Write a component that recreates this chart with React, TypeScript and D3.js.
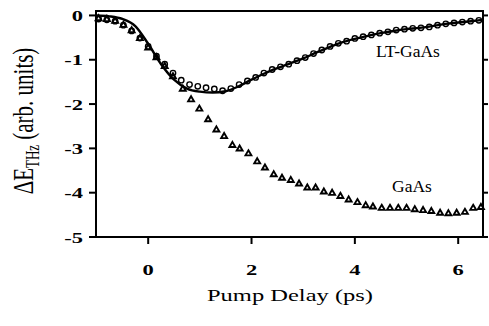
import React from "react";
import * as d3 from "d3";

// LT-GaAs measured points (open circles)
const ltTime = [-0.96, -0.8, -0.64, -0.48, -0.32, -0.16, 0.0, 0.16, 0.32, 0.48, 0.64, 0.8, 0.96, 1.12, 1.28, 1.44, 1.6, 1.76, 1.92, 2.08, 2.24, 2.4, 2.56, 2.72, 2.88, 3.04, 3.2, 3.36, 3.52, 3.68, 3.84, 4.0, 4.16, 4.32, 4.48, 4.64, 4.8, 4.96, 5.12, 5.28, 5.44, 5.6, 5.76, 5.92, 6.08, 6.24, 6.4];
const ltValue = [-0.08, -0.1, -0.13, -0.22, -0.35, -0.51, -0.7, -0.92, -1.1, -1.3, -1.46, -1.56, -1.6, -1.63, -1.66, -1.7, -1.65, -1.56, -1.48, -1.4, -1.3, -1.22, -1.16, -1.1, -1.02, -0.95, -0.86, -0.78, -0.7, -0.63, -0.58, -0.52, -0.48, -0.44, -0.4, -0.37, -0.33, -0.31, -0.29, -0.28, -0.26, -0.22, -0.19, -0.17, -0.15, -0.13, -0.11];

// Fit curve (solid line)
const fitTime = [-1.0, -0.75, -0.5, -0.25, 0.0, 0.25, 0.5, 0.75, 1.0, 1.25, 1.5, 1.75, 2.0, 2.25, 2.5, 2.75, 3.0, 3.25, 3.5, 3.75, 4.0, 4.25, 4.5, 4.75, 5.0, 5.25, 5.5, 5.75, 6.0, 6.25, 6.48];
const fitValue = [0.0, -0.02, -0.08, -0.24, -0.64, -1.1, -1.45, -1.65, -1.72, -1.74, -1.71, -1.6, -1.45, -1.31, -1.19, -1.08, -0.97, -0.84, -0.72, -0.61, -0.53, -0.46, -0.4, -0.35, -0.31, -0.28, -0.24, -0.19, -0.16, -0.13, -0.1];

// GaAs measured points (triangles)
const gaasTime = [-0.96, -0.8, -0.64, -0.48, -0.32, -0.16, 0.0, 0.16, 0.32, 0.48, 0.67, 0.83, 0.99, 1.16, 1.32, 1.47, 1.63, 1.77, 1.94, 2.11, 2.26, 2.43, 2.59, 2.76, 2.92, 3.08, 3.24, 3.4, 3.56, 3.72, 3.88, 4.05, 4.21, 4.35, 4.52, 4.68, 4.84, 5.0, 5.16, 5.32, 5.48, 5.65, 5.81, 5.97, 6.13, 6.29, 6.44];
const gaasValue = [-0.07, -0.09, -0.13, -0.22, -0.34, -0.52, -0.73, -0.95, -1.15, -1.38, -1.66, -1.9, -2.11, -2.35, -2.58, -2.73, -2.93, -3.01, -3.12, -3.3, -3.44, -3.59, -3.67, -3.72, -3.8, -3.89, -3.89, -3.98, -4.01, -4.08, -4.16, -4.22, -4.29, -4.32, -4.35, -4.35, -4.35, -4.35, -4.38, -4.4, -4.42, -4.46, -4.47, -4.46, -4.44, -4.35, -4.33];

const xTicks = [0, 2, 4, 6];
const yTicks = [0, -1, -2, -3, -4, -5];

const FONT = "Liberation Serif";

export default function App() {
  const W = 489;
  const H = 326;
  const x = d3.scaleLinear().domain([-1.01, 6.48]).range([96, 483]);
  const y = d3.scaleLinear().domain([-5, 0.1]).range([237, 11]);

  const fitLine = d3
    .line<number>()
    .x((_, i) => x(fitTime[i]))
    .y((v) => y(v))
    .curve(d3.curveMonotoneX);

  const tri = d3.symbol(d3.symbolTriangle, 15)() as string;

  const [x0, x1] = x.range();
  const [y0, y1] = y.range();
  const tf = { fontFamily: FONT };

  return (
    <svg
      width={W}
      height={H}
      style={{ position: "absolute", left: 0, top: 0, background: "#fff" }}
    >
      <rect x={0} y={0} width={W} height={H} fill="#fff" />

      {/* GaAs triangles */}
      {gaasValue.map((v, i) => (
        <path
          key={"g" + i}
          d={tri}
          transform={`translate(${x(gaasTime[i])},${y(v)})`}
          fill="#fff"
          stroke="#000"
          strokeWidth={1.9}
          strokeLinejoin="miter"
        />
      ))}

      {/* fit line */}
      <path d={fitLine(fitValue) || ""} fill="none" stroke="#000" strokeWidth={2.4} />

      {/* LT-GaAs circles */}
      {ltValue.map((v, i) => (
        <circle
          key={"c" + i}
          cx={x(ltTime[i])}
          cy={y(v)}
          r={2.7}
          fill="none"
          stroke="#000"
          strokeWidth={1.4}
        />
      ))}

      {/* frame */}
      <rect x={x0} y={y1} width={x1 - x0} height={y0 - y1} fill="none" stroke="#000" strokeWidth={2} />

      {/* y ticks left and right */}
      {yTicks.map((t) => (
        <g key={"y" + t}>
          <line x1={x0 - 7} x2={x0} y1={y(t)} y2={y(t)} stroke="#000" strokeWidth={2} />
          <line x1={x1} x2={x1 + 5} y1={y(t)} y2={y(t)} stroke="#000" strokeWidth={2} />
          <text
            transform={`translate(83,${y(t) + 5.5}) scale(1.5,1)`}
            textAnchor="end"
            fontSize={15}
            fontWeight="bold"
            style={tf}
          >
            {t === 0 ? "0" : "-" + Math.abs(t)}
          </text>
        </g>
      ))}

      {/* x ticks */}
      {xTicks.map((t) => (
        <g key={"x" + t}>
          <line x1={x(t)} x2={x(t)} y1={y0} y2={y0 + 7} stroke="#000" strokeWidth={2} />
          <text
            transform={`translate(${x(t)},275) scale(1.5,1)`}
            textAnchor="middle"
            fontSize={15}
            fontWeight="bold"
            style={tf}
          >
            {t}
          </text>
        </g>
      ))}

      {/* x title */}
      <text x={290} y={301} textAnchor="middle" fontSize={17} textLength={166} lengthAdjust="spacingAndGlyphs" style={tf}>
        Pump Delay (ps)
      </text>

      {/* y title */}
      <g transform="translate(33,121) rotate(-90) scale(1,1.4)">
        <text x={0} y={0} textAnchor="middle" fontSize={21} style={tf}>
          <tspan>ΔE</tspan>
          <tspan fontSize={13} dy={4}>THz</tspan>
          <tspan dy={-4}> (arb. units)</tspan>
        </text>
      </g>

      {/* series labels */}
      <text x={376} y={57} fontSize={17.5} style={tf}>LT-GaAs</text>
      <text x={392} y={192} fontSize={17.5} style={tf}>GaAs</text>
    </svg>
  );
}
